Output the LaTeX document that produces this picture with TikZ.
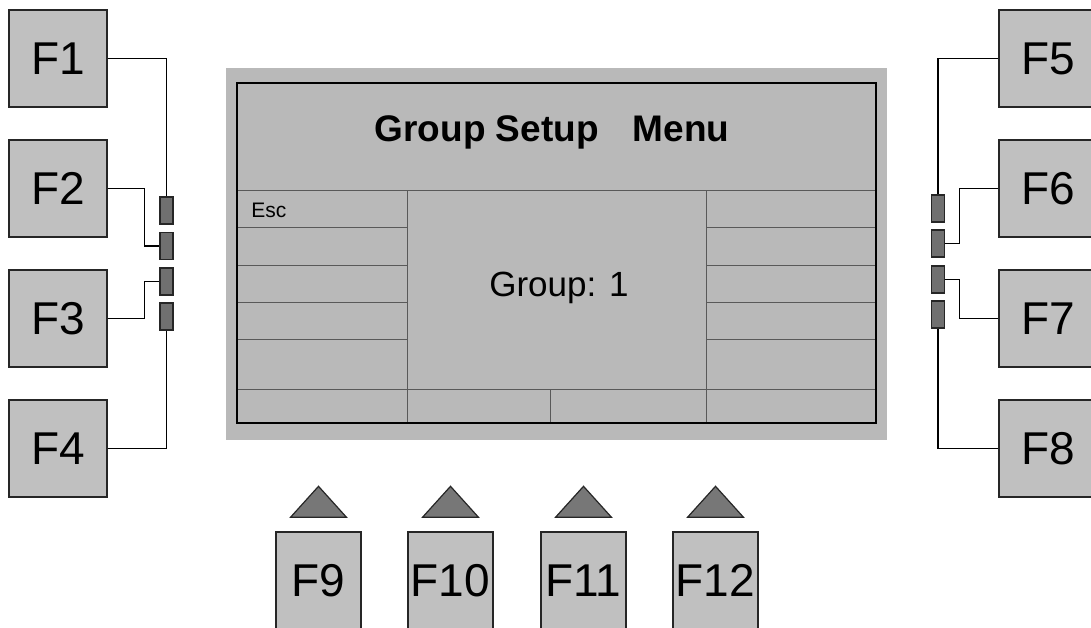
\documentclass[tikz,border=0pt]{standalone}
\usepackage{fontspec}
\setmainfont{Liberation Sans}
\usepackage{tikz}
\usetikzlibrary{positioning,calc}
\definecolor{keygray}{HTML}{C0C0C0}
\definecolor{lcdgray}{HTML}{B9B9B9}
\definecolor{pingray}{HTML}{707070}
\tikzset{
  fkey/.style={draw=black!85, line width=0.7pt, fill=keygray, minimum width=49pt,
               minimum height=48.5pt, inner sep=0pt, font=\fontsize{23}{23}\selectfont},
  bkey/.style={fkey, minimum width=42.5pt},
  pinbox/.style={draw=black!85, line width=0.6pt, fill=pingray, minimum width=6.5pt,
                 minimum height=13.5pt, inner sep=0pt},
  keytri/.style={draw=black!85, line width=0.6pt, fill=pingray!95!white},
  wire/.style={line width=0.6pt},
  lcdline/.style={line width=0.5pt, draw=black!65},
}

\begin{document}
\begin{tikzpicture}[x=0.5pt, y=-0.5pt]
    \useasboundingbox (0,0) rectangle (1091,627);
    \clip (0,0) rectangle (1091,627);
    % display
    \fill[lcdgray] (226,68) rectangle (887,440);
    \foreach \y in {227,265,302,339} {
      \draw[lcdline] (237,\y) -- (407,\y);
      \draw[lcdline] (706,\y) -- (876,\y);
    }
    \draw[lcdline] (237,190) -- (876,190);
    \draw[lcdline] (237,389) -- (876,389);
    \draw[lcdline] (407,190) -- (407,423);
    \draw[lcdline] (706,190) -- (706,423);
    \draw[lcdline] (550,389) -- (550,423);
    \draw[line width=1.2pt] (237,83) rectangle (876,423);
    \node[font=\fontsize{18.5}{19}\selectfont\bfseries] (title) at (552,132) {Group Setup\hspace{17pt}Menu};
    \node[font=\fontsize{17.5}{18}\selectfont] (grp) at (559,288) {Group: 1};
    \node[font=\fontsize{10.5}{11}\selectfont, anchor=west, inner sep=0pt] (esc) at (251,210) {Esc};
    % side keys
    \node[fkey] (f1) at (58,58.5)  {F1};
    \node[fkey] (f2) at (58,188.5) {F2};
    \node[fkey] (f3) at (58,318.5) {F3};
    \node[fkey] (f4) at (58,448.5) {F4};
    \node[fkey] (f5) at (1048,58.5)  {F5};
    \node[fkey] (f6) at (1048,188.5) {F6};
    \node[fkey] (f7) at (1048,318.5) {F7};
    \node[fkey] (f8) at (1048,448.5) {F8};
    \node[pinbox] (p1) at (166.5,210.5) {};
    \node[pinbox] (p2) at (166.5,246)   {};
    \node[pinbox] (p3) at (166.5,281.5) {};
    \node[pinbox] (p4) at (166.5,316.5) {};
    \node[pinbox] (p5) at (938,208.5) {};
    \node[pinbox] (p6) at (938,243.5) {};
    \node[pinbox] (p7) at (938,279.5) {};
    \node[pinbox] (p8) at (938,314.5) {};
    \draw[wire] (f1.east) -| (p1.north);
    \draw[wire] (f2.east) -- ++(37,0) |- (p2.west);
    \draw[wire] (f3.east) -- ++(37,0) |- (p3.west);
    \draw[wire] (f4.east) -| (p4.south);
    \draw[wire] (f5.west) -| (p5.north);
    \draw[wire] (f6.west) -- ++(-39,0) |- (p6.east);
    \draw[wire] (f7.west) -- ++(-39,0) |- (p7.east);
    \draw[wire] (f8.west) -| (p8.south);
    % bottom keys
    \node[bkey] (f9)  at (318.5,580.5) {F9};
    \node[bkey] (f10) at (450.5,580.5) {F10};
    \node[bkey] (f11) at (583.5,580.5) {F11};
    \node[bkey] (f12) at (715.5,580.5) {F12};
    \foreach \k in {f9,f10,f11,f12}
      \draw[keytri] ($(\k.north)+(-28,-14)$) -- ($(\k.north)+(0,-45)$) -- ($(\k.north)+(28,-14)$) -- cycle;
\end{tikzpicture}
\end{document}
